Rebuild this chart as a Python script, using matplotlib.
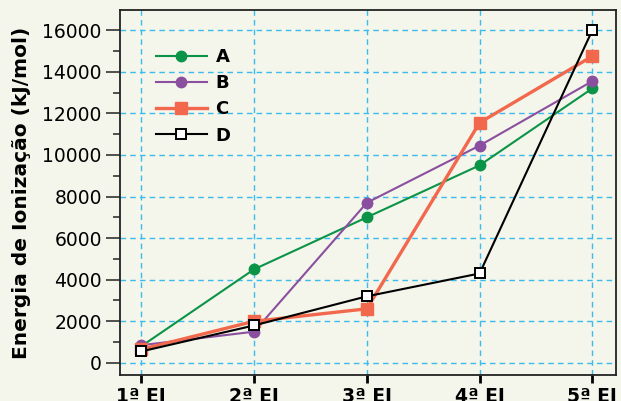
import matplotlib
matplotlib.use("Agg")
import matplotlib.pyplot as plt
from matplotlib.ticker import MultipleLocator

categories = ["1ª EI", "2ª EI", "3ª EI", "4ª EI", "5ª EI"]
serie_a = [800, 4500, 7000, 9500, 13200]
serie_b = [850, 1500, 7700, 10450, 13550]
serie_c = [650, 2000, 2600, 11550, 14750]
serie_d = [550, 1800, 3200, 4300, 16000]

bg = "#f4f5eb"
fig = plt.figure(figsize=(6.21, 4.01), dpi=100, facecolor=bg)
ax = fig.add_axes([0.193, 0.065, 0.799, 0.91], facecolor=bg)

x = list(range(len(categories)))
ax.plot(x, serie_a, color="#0b9447", lw=1.5, marker="o", ms=7.5, label="A", zorder=3)
ax.plot(x, serie_b, color="#8a4f9e", lw=1.5, marker="o", ms=7.5, label="B", zorder=3)
ax.plot(x, serie_c, color="#f2684c", lw=2.4, marker="s", ms=8.5, label="C", zorder=3)
ax.plot(x, serie_d, color="black", lw=1.5, marker="s", ms=7.5, mfc="white",
        mec="black", mew=1.4, label="D", zorder=4)

ax.set_xlim(-0.19, 4.21)
ax.set_ylim(-580, 16970)
ax.set_xticks(x)
ax.set_xticklabels(categories, fontsize=13.5, fontweight="bold")
ax.yaxis.set_major_locator(MultipleLocator(2000))
ax.yaxis.set_minor_locator(MultipleLocator(1000))
ax.tick_params(axis="y", which="major", labelsize=13.5, length=10, width=1.2,
               color="#333333", pad=3)
ax.tick_params(axis="y", which="minor", length=5, width=1.2, color="#333333")
ax.tick_params(axis="x", which="major", length=6, width=2, pad=3)
ax.grid(True, which="major", color="#3cbcee", ls=(0, (4, 3)), lw=1.0)
ax.set_axisbelow(True)
for s in ax.spines.values():
    s.set_linewidth(1.3)
    s.set_color("#222222")

ax.set_ylabel("Energia de Ionização (kJ/mol)", fontsize=14.5, fontweight="bold", labelpad=8)

leg = ax.legend(loc="upper left", bbox_to_anchor=(0.04, 0.94), frameon=False,
                prop={"weight": "bold", "size": 13}, handlelength=2.8,
                labelspacing=0.45, handletextpad=0.5)

fig.savefig("out.png", dpi=100, facecolor=bg)
